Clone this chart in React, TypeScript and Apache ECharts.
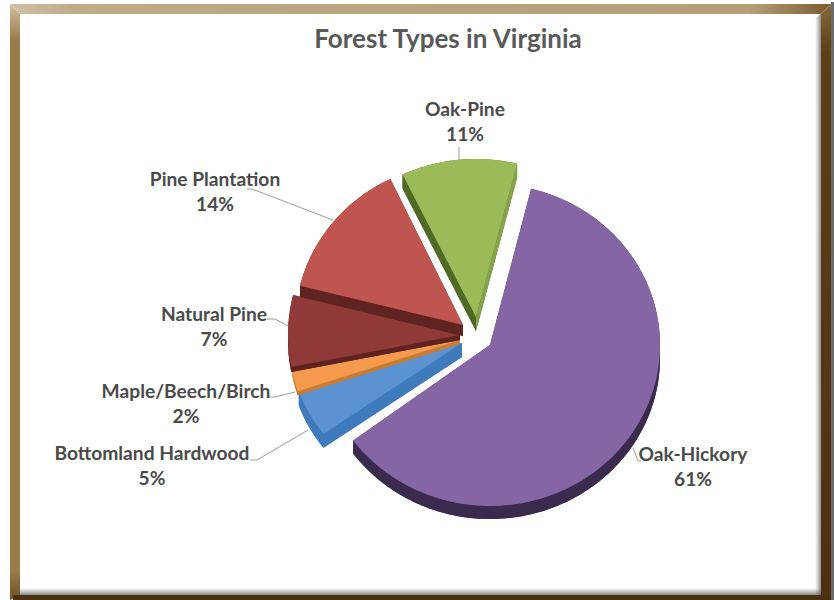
import React, { useEffect, useRef } from "react";
import * as echarts from "echarts";

const categories = ["Oak-Hickory", "Bottomland Hardwood", "Maple/Beech/Birch", "Natural Pine", "Pine Plantation", "Oak-Pine"];
const shares = [61, 5, 2, 7, 14, 11];

const topColors = ["#8565A3", "#5B93D2", "#F5994C", "#8F3A38", "#C0544F", "#9BBB59"];
const wallColors = ["#3A2A4D", "#3F7ABD", "#C87C33", "#5E2220", "#5F2421", "#4E6A24"];
const endWallColors = ["#3A2A4D", "#3F7ABD", "#C87C33", "#5E2220", "#5F2421", "#84A34A"];
const centers = [[490, 345], [462, 343], [460, 340], [460, 335], [463, 325], [476, 317]];
const radii = [[170, 161], [172, 153], [171, 162], [172, 165], [168, 162], [170, 158]];
const depths = [13, 14, 4, 5, 11, 14];
const labelAnchors = [[693, 441], [152, 440], [186, 378], [214, 301], [215, 166], [465, 96]];
const leaders = [
  [[633, 448], [638, 461], [641, 461]],
  [[250, 460], [257, 460], [308, 430]],
  [[268, 397], [275, 397], [295, 392]],
  [[267, 319], [275, 319], [288, 326]],
  [[247, 189], [252, 189], [333, 220]],
  [[459, 147], [459, 161]],
];
const startAngle = 14;
const FONT = "Lato, Carlito, 'Open Sans', sans-serif";

function arcPoints(i: number, a0: number, a1: number) {
  const [cx, cy] = centers[i];
  const [rx, ry] = radii[i];
  const n = Math.max(2, Math.ceil(a1 - a0));
  const pts: number[][] = [];
  for (let k = 0; k <= n; k++) {
    const t = ((a0 + ((a1 - a0) * k) / n) * Math.PI) / 180;
    pts.push([cx + rx * Math.sin(t), cy - ry * Math.cos(t)]);
  }
  return pts;
}

const total = shares.reduce((a, b) => a + b, 0);

function renderSlice(params: any, api: any) {
  const i = params.dataIndex;
  let before = 0;
  for (let k = 0; k < i; k++) before += shares[k];
  const a0 = startAngle + (before / total) * 360;
  const a1 = a0 + (api.value(0) / total) * 360;
  const arc = arcPoints(i, a0, a1);
  const apex = centers[i];
  const d = depths[i];
  const down = (p: number[]) => [p[0], p[1] + d];
  const wall = { fill: wallColors[i] };
  const first = arc[0];
  const last = arc[arc.length - 1];
  const children: any[] = [
    { type: "polygon", shape: { points: [apex, ...arc].map(down) }, style: wall },
    { type: "polygon", shape: { points: [...arc, ...arc.map(down).reverse()] }, style: wall },
    { type: "polygon", shape: { points: [apex, last, down(last), down(apex)] }, style: { fill: endWallColors[i] } },
    { type: "polygon", shape: { points: [apex, first, down(first), down(apex)] }, style: wall },
    { type: "polygon", shape: { points: [apex, ...arc] }, style: { fill: topColors[i] } },
    { type: "polyline", shape: { points: leaders[i] }, style: { fill: "none", stroke: "#9c9c9c", lineWidth: 1 } },
    {
      type: "text",
      style: {
        x: labelAnchors[i][0],
        y: labelAnchors[i][1],
        text: `${categories[i]}\n${api.value(0)}%`,
        fill: "#4a4a4a",
        font: `bold 19.2px ${FONT}`,
        lineHeight: 25,
        align: "center",
        verticalAlign: "top",
      },
    },
  ];
  return { type: "group", children };
}

function band(points: number[][], grad: number[], stops: [number, string][]) {
  return {
    type: "polygon",
    silent: true,
    shape: { points },
    style: {
      fill: new echarts.graphic.LinearGradient(grad[0], grad[1], grad[2], grad[3], stops.map(([offset, color]) => ({ offset, color })), false),
    },
  };
}

export default function App() {
  const ref = useRef<HTMLDivElement>(null);
  useEffect(() => {
    document.body.style.margin = "0";
    const chart = echarts.init(ref.current!, undefined, { renderer: "svg" });
    chart.setOption({
      animation: false,
      backgroundColor: "#ffffff",
      title: {
        text: "Forest Types in Virginia",
        left: 443,
        top: 20,
        textAlign: "center",
        textStyle: { color: "#595959", fontFamily: FONT, fontWeight: "bold", fontSize: 26 },
      },
      graphic: [
        { type: "rect", silent: true, shape: { x: 831, y: 2, width: 3, height: 598 }, style: { fill: "#6b6b6b" } },
        { type: "rect", silent: true, shape: { x: 20, y: 14, width: 801, height: 581 }, style: { fill: "#ffffff" } },
        band([[10, 4], [831, 4], [821, 14], [20, 14]], [0, 0, 1, 0], [[0, "#CFC0A4"], [0.08, "#BFAB88"], [0.9, "#B59E78"], [0.96, "#94774C"], [1, "#7A5A2C"]]),
        band([[10, 4], [20, 14], [20, 595], [10, 600]], [0, 0, 0, 1], [[0, "#CFC0A4"], [0.06, "#9C7B4B"], [0.95, "#9C7B4B"], [1, "#6E5228"]]),
        band([[831, 4], [831, 600], [821, 595], [821, 14]], [0, 0, 0, 1], [[0, "#86693C"], [0.08, "#5E3F18"], [1, "#4C3010"]]),
        { type: "rect", silent: true, shape: { x: 13, y: 595, width: 818, height: 5 }, style: { fill: "#4A2F10" } },
        band([[20, 588], [821, 588], [821, 595], [20, 595]], [0, 0, 0, 1], [[0, "rgba(120,120,120,0)"], [1, "rgba(90,90,90,0.75)"]]),
        band([[815, 18], [821, 14], [821, 595], [815, 595]], [0, 0, 1, 0], [[0, "rgba(120,120,120,0)"], [1, "rgba(90,90,90,0.7)"]]),
      ],
      series: [
        {
          type: "custom",
          coordinateSystem: "none",
          silent: true,
          renderItem: renderSlice,
          data: categories.map((name, i) => ({ name, value: [shares[i]] })),
        },
      ],
    });
    return () => chart.dispose();
  }, []);
  return <div ref={ref} style={{ width: 834, height: 600 }} />;
}
